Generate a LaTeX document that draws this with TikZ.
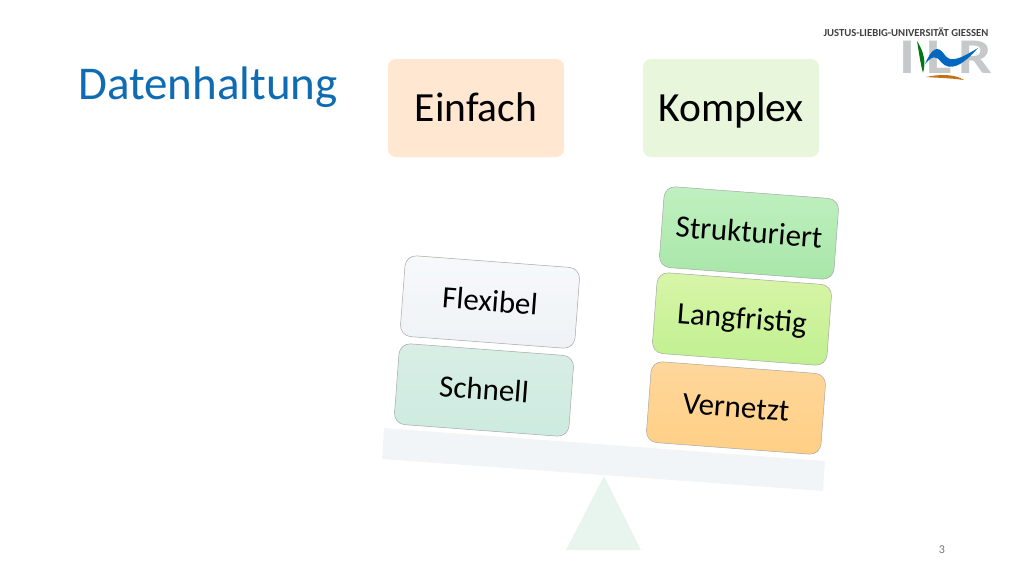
\documentclass[tikz,border=0pt]{standalone}
\usepackage{fontspec}
\setmainfont{Carlito}
\usetikzlibrary{positioning}
\definecolor{T}{RGB}{15, 108, 178}
\definecolor{O}{RGB}{255, 231, 210}
\definecolor{K}{RGB}{232, 247, 220}
\definecolor{W}{RGB}{241, 245, 248}
\definecolor{D}{RGB}{232, 245, 238}
\definecolor{L}{RGB}{199, 200, 202}
\definecolor{F1}{RGB}{247, 249, 251}
\definecolor{F2}{RGB}{238, 242, 246}
\definecolor{S1}{RGB}{216, 238, 230}
\definecolor{S2}{RGB}{205, 235, 224}
\definecolor{U1}{RGB}{192, 240, 192}
\definecolor{U2}{RGB}{168, 230, 168}
\definecolor{A1}{RGB}{216, 245, 168}
\definecolor{A2}{RGB}{192, 240, 144}
\definecolor{V1}{RGB}{255, 215, 155}
\definecolor{V2}{RGB}{255, 207, 133}
\tikzset{
  headbox/.style={fill=#1, rounded corners=8, minimum width=176, minimum height=98, text height=27, text depth=1, font=\fontsize{41.5}{44}\selectfont},
  tiltbox/.style 2 args={draw=black!35, line width=0.5, top color=#1, bottom color=#2, rounded corners=11, minimum width=175, minimum height=81, text height=23, text depth=4, rotate=-4.3, font=\fontsize{31}{33}\selectfont},
  logoletter/.style={text=L, inner sep=0, xscale=1.2, text height=33, text depth=0, font=\fontsize{50}{50}\selectfont\bfseries}
}
\begin{document}
\begin{tikzpicture}[x=1pt,y=-1pt]
  \useasboundingbox (0,0) rectangle (1024,576);
  %# TITEL
  \node[text=T, inner sep=0, font=\fontsize{47}{49}\selectfont] (titel) at (208,87) {Datenhaltung};
  \node[headbox=O] (einfach) at (476,108) {Einfach};
  \node[headbox=K] (komplex) at (731,108) {Komplex};

  %# WAAGE
  \fill[W] (384,428) -- (825,461) -- (823,491) -- (382,459) -- cycle;
  \fill[D] (604,476) -- (641,550) -- (566,550) -- cycle;

  %# LINKE SEITE
  \node[tiltbox={F1}{F2}] (flexibel) at (490,302) {Flexibel};
  \node[tiltbox={S1}{S2}] (schnell) at (484,390) {Schnell};

  %# RECHTE SEITE
  \node[tiltbox={U1}{U2}] (strukturiert) at (749,233) {Strukturiert};
  \node[tiltbox={A1}{A2}] (langfristig) at (742,319) {Langfristig};
  \node[tiltbox={V1}{V2}] (vernetzt) at (736,408) {Vernetzt};

  %# LOGO
  \node[text=black!75, inner sep=0, font=\fontsize{10.7}{11}\selectfont\bfseries] (uni) at (906,32) {JUSTUS-LIEBIG-UNIVERSITÄT GIESSEN};
  \node[logoletter] (logoi) at (907,57) {I};
  \node[logoletter] (logol) at (939,57) {L};
  \node[logoletter] (logor) at (975,57) {R};
  \fill[green!45!black!85!teal] (917,41) .. controls (924,52) and (926,62) .. (923,73) .. controls (920,62) and (919,52) .. cycle;
  \fill[blue!45!cyan!75!black] (925,64) .. controls (931,50) and (937,44) .. (944,54) .. controls (950,63) and (958,60) .. (978,48) .. controls (962,66) and (950,72) .. (941,62) .. controls (936,55) and (932,56) .. cycle;
  \fill[orange!75!black!90] (926,77) .. controls (940,74) and (955,74) .. (964,80) .. controls (950,78) and (940,78) .. cycle;

  %# SEITENZAHL
  \node[text=black!55, inner sep=0, font=\fontsize{12}{12}\selectfont] (seite) at (942,550) {3};
\end{tikzpicture}
\end{document}
